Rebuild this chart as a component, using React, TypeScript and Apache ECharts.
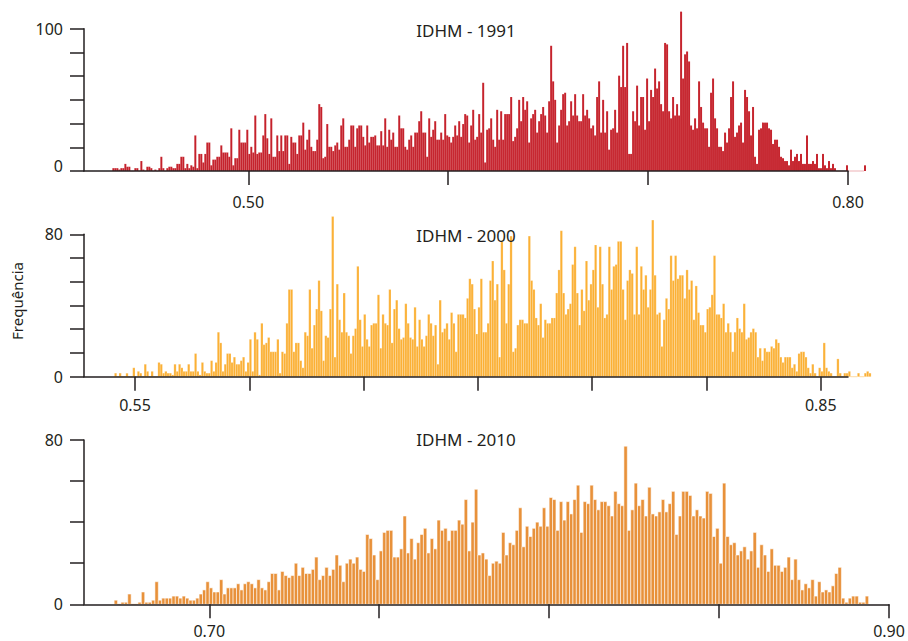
import React, { useEffect, useRef } from "react";
import * as echarts from "echarts";

// ---------- data ----------
const BIN = 0.001;
const START_1991 = 0.432;
const START_2000 = 0.541;
const START_2010 = 0.672;

const FREQ_1991 = [
  2,2,2,1,2,2,5,3,3,0, 0,2,2,0,7,1,0,3,3,2, 0,1,0,2,10,2,0,2,3,3, 2,2,5,5,10,10,2,5,2,4,
  3,25,2,12,12,6,12,20,20,4, 8,8,10,10,18,13,13,13,10,30, 4,9,9,29,20,20,20,29,12,17,
  13,39,12,13,13,25,40,23,12,37, 10,10,25,14,25,14,25,25,5,24, 20,20,12,25,
  25,34,15,22,29,17,14,14,22,47, 45,9,10,33,17,17,14,18,20,15, 32,37,17,17,22,32,32,17,30,32,
  32,24,18,32,20,24,24,25,18,18, 28,18,37,17,29,22,27,17,17,39, 30,30,17,15,22,25,17,27,27,35,
  42,27,27,10,37,24,29,35,22,22, 27,22,40,25,24,20,24,32,25,35, 24,33,40,39,20,32,43,22,24,40,
  27,62,6,29,30,37,22,17,43,22, 42,22,40,40,40,52,21,24,30,50, 35,52,43,49,20,37,40,43,27,35,
  40,45,39,27,49,88,63,50,20,32, 43,54,55,32,35,49,39,54,39,35, 35,54,39,43,37,30,32,25,52,63,
  27,50,27,42,15,29,30,43,27,67, 59,88,59,90,12,12,42,35,60,32, 52,52,29,65,35,57,52,72,58,63,
  47,42,90,89,42,37,52,39,47,39, 112,65,82,84,77,32,29,37,30,63, 45,34,30,30,17,55,65,37,30,17,
  17,14,27,20,30,52,63,24,27,32, 34,20,57,52,42,25,45,10,5,29, 30,34,34,34,30,29,19,22,22,17,
  10,9,7,7,4,15,7,10,12,7, 12,5,5,25,5,5,7,5,12,2, 2,12,4,2,7,2,5,2,0,0,
  0,0,0,4,0,0,0,0,0,0, 0,0,4,
];

const FREQ_2000 = [
  2,0,2,0,0,2,0,0,5,0, 3,2,0,7,3,0,3,0,0,8, 7,2,3,2,2,1,7,3,7,5, 3,3,7,3,3,13,3,1,8,3,
  2,2,9,3,8,25,19,3,7,13, 13,8,11,7,7,9,11,3,8,21, 3,25,21,1,30,18,19,22,14,14,
  14,21,2,14,13,30,49,49,14,19, 19,9,5,25,23,49,16,29,38,54, 37,9,23,22,
  38,90,11,52,32,25,47,25,23,13, 23,27,62,32,17,35,21,17,29,30, 30,46,16,35,30,29,49,19,38,43,
  27,21,22,41,30,22,21,39,17,32, 21,17,23,35,30,23,29,7,43,25, 27,30,21,36,30,14,35,35,35,33,
  44,55,52,38,24,39,55,25,25,30, 54,65,43,52,11,76,60,30,52,79, 14,16,29,32,32,30,30,79,54,49,
  33,29,41,22,32,30,30,33,33,47, 60,82,47,35,38,41,63,73,47,29, 49,37,65,43,52,60,74,39,73,
  52,33,35,73,49,62,63,76,76,49, 32,54,60,58,35,73,35,62,49,57, 39,49,88,57,35,36,17,32,44,38,
  68,54,68,55,57,57,44,60,49,54, 32,51,36,29,29,25,38,39,46,68, 35,35,33,41,25,30,25,14,25,33,
  27,25,41,21,22,25,27,25,11,16, 9,16,14,14,17,16,21,19,11,8, 11,11,11,5,7,3,13,14,14,11,
  5,2,7,2,0,5,3,19,5,3, 2,0,0,10,2,0,2,2,3,0, 0,0,2,0,0,2,3,2,
];

const FREQ_2010 = [
  2,0,1,1,5,0,0,1,6,1, 1,2,11,2,3,3,3,4,4,3, 4,3,2,2,3,5,7,11,8,6, 6,12,5,8,8,8,10,7,10,11,
  10,8,12,8,7,11,15,15,7,16, 14,13,14,20,14,18,15,15,17,23, 12,14,18,
  14,17,24,19,11,20,22,20,23,17, 16,34,32,24,12,26,35,36,36,23, 23,27,43,25,32,22,30,34,37,25,
  32,27,41,36,37,31,36,36,41,39, 51,26,40,56,24,25,22,14,20,21, 20,35,24,30,29,36,47,28,38,33,
  37,40,38,47,38,52,51,36,50,41, 50,44,51,58,35,50,49,58,51,46,
  50,50,48,43,55,49,48,77,36,46, 59,48,51,43,57,44,43,45,51,45, 49,55,34,43,55,55,53,43,46,43,
  42,55,54,33,37,20,59,33,29,30, 24,26,28,22,26,35,18,29,24,16, 27,19,19,16,18,23,12,22,12,7,
  10,8,12,4,11,6,7,6,9,15, 18,3,1,3,4,4,1,1,4,
];

const TITLES = ["IDHM - 1991", "IDHM - 2000", "IDHM - 2010"];
const Y_TITLE = "Frequência";

const X_TICKS_1991 = [0.5, 0.6, 0.7, 0.8];
const X_LABELS_1991 = [0.5, 0.8];
const X_TICKS_2000 = [0.55, 0.6, 0.65, 0.7, 0.75, 0.8, 0.85];
const X_LABELS_2000 = [0.55, 0.85];
const X_TICKS_2010 = [0.7, 0.75, 0.8, 0.85, 0.9];
const X_LABELS_2010 = [0.7, 0.9];

const Y_TICKS_1991 = [0, 100 / 6, 200 / 6, 50, 400 / 6, 500 / 6, 100];
const Y_LABELS_1991 = [0, 100];
const Y_TICKS_2000 = [0, 80 / 6, 160 / 6, 40, 320 / 6, 400 / 6, 80];
const Y_LABELS_2000 = [0, 80];
const Y_TICKS_2010 = [0, 20, 40, 60, 80];
const Y_LABELS_2010 = [0, 80];

// ---------- styling / layout ----------
const FONT = '"Noto Sans", "Open Sans", sans-serif';
const INK = "#231f20";

const PANELS = [
  {
    data: FREQ_1991, start: START_1991, color: "#c51f29", faint: "rgba(200,32,42,0.35)",
    stroke: "rgba(255,255,255,0.22)", lw: 0.3,
    grid: { left: 84, top: 28.7, width: 764, height: 142.3 },
    xMin: 0.41781, xMax: 0.8, yMax: 100,
    xTicks: X_TICKS_1991, xLabels: X_LABELS_1991, yTicks: Y_TICKS_1991, yLabels: Y_LABELS_1991,
    xMargin: 23, liftZero: true, titleY: 30,
  },
  {
    data: FREQ_2000, start: START_2000, color: "#fbb034", faint: "rgba(251,176,52,0.45)",
    stroke: "rgba(255,255,255,0.45)", lw: 0.45,
    grid: { left: 84, top: 234.3, width: 764, height: 142.4 },
    xMin: 0.52769, xMax: 0.8619, yMax: 80,
    xTicks: X_TICKS_2000, xLabels: X_LABELS_2000, yTicks: Y_TICKS_2000, yLabels: Y_LABELS_2000,
    xMargin: 20, liftZero: false, titleY: 235,
  },
  {
    data: FREQ_2010, start: START_2010, color: "#e8913a", faint: "rgba(232,145,58,0.45)",
    stroke: "rgba(255,255,255,0.7)", lw: 0.8,
    grid: { left: 84, top: 440, width: 805, height: 164.3 },
    xMin: 0.66313, xMax: 0.9, yMax: 80,
    xTicks: X_TICKS_2010, xLabels: X_LABELS_2010, yTicks: Y_TICKS_2010, yLabels: Y_LABELS_2010,
    xMargin: 19, liftZero: false, titleY: 439,
  },
];

function buildOption() {
  const axisLine = { show: true, lineStyle: { color: INK, width: 1.5 } };
  const grid = PANELS.map((p) => ({ ...p.grid, containLabel: false }));
  const xAxis = PANELS.map((p, i) => ({
    type: "value",
    gridIndex: i,
    min: p.xMin,
    max: p.xMax,
    z: 3,
    axisLine: { ...axisLine, onZero: false },
    splitLine: { show: false },
    axisTick: { show: true, length: 14, lineStyle: { color: INK, width: 1.5 }, customValues: p.xTicks },
    axisLabel: {
      show: true,
      customValues: p.xLabels,
      margin: p.xMargin,
      fontFamily: FONT,
      fontSize: 16,
      lineHeight: 16,
      color: INK,
      formatter: (v: number) => v.toFixed(2),
    },
  }));
  const yAxis = PANELS.map((p, i) => ({
    type: "value",
    gridIndex: i,
    min: 0,
    max: p.yMax,
    z: 3,
    axisLine: { ...axisLine, onZero: false },
    splitLine: { show: false },
    axisTick: { show: true, length: 14, lineStyle: { color: INK, width: 1.5 }, customValues: p.yTicks },
    axisLabel: {
      show: true,
      customValues: p.yLabels,
      margin: 21,
      fontFamily: FONT,
      fontSize: 16,
      color: INK,
      formatter: (v: number) => (p.liftZero && Math.abs(v) < 1e-9 ? "{lift|0}" : String(Math.round(v))),
      rich: { lift: { fontFamily: FONT, fontSize: 16, color: INK, padding: [0, 0, 11, 0] } },
    },
  }));
  const series = PANELS.map((p, i) => ({
    type: "custom",
    xAxisIndex: i,
    yAxisIndex: i,
    clip: false,
    z: 2,
    encode: { x: 0, y: 1 },
    data: p.data.map((v, k) => [p.start + k * BIN, v]),
    renderItem: (_params: any, api: any) => {
      const x = api.value(0) as number;
      const v = api.value(1) as number;
      const a = api.coord([x, 0]);
      const b = api.coord([x + BIN, v]);
      if (v <= 0) {
        return {
          type: "rect",
          shape: { x: a[0], y: a[1] - 0.5, width: b[0] - a[0], height: 1 },
          style: { fill: p.faint },
        };
      }
      return {
        type: "rect",
        shape: { x: a[0], y: b[1], width: b[0] - a[0], height: a[1] - b[1] },
        style: { fill: p.color, stroke: p.stroke, lineWidth: p.lw },
      };
    },
  }));
  const graphic = [
    ...PANELS.map((p, i) => ({
      type: "text",
      x: 466,
      y: p.titleY,
      z: 10,
      style: {
        text: TITLES[i],
        font: `17px ${FONT}`,
        fill: INK,
        align: "center",
        verticalAlign: "middle",
        textAlign: "center",
        textVerticalAlign: "middle",
      },
    })),
    {
      type: "text",
      x: 17,
      y: 301,
      rotation: Math.PI / 2,
      z: 10,
      style: {
        text: Y_TITLE,
        font: `15px ${FONT}`,
        fill: INK,
        align: "center",
        verticalAlign: "middle",
        textAlign: "center",
        textVerticalAlign: "middle",
      },
    },
  ];
  return { animation: false, backgroundColor: "#ffffff", grid, xAxis, yAxis, series, graphic };
}

export default function App() {
  const ref = useRef<HTMLDivElement>(null);
  useEffect(() => {
    if (!ref.current) return;
    const chart = echarts.init(ref.current, undefined, { renderer: "svg" });
    chart.setOption(buildOption() as any);
    return () => chart.dispose();
  }, []);
  return (
    <div
      ref={ref}
      style={{ position: "fixed", left: 0, top: 0, width: 908, height: 641, background: "#fff" }}
    />
  );
}
